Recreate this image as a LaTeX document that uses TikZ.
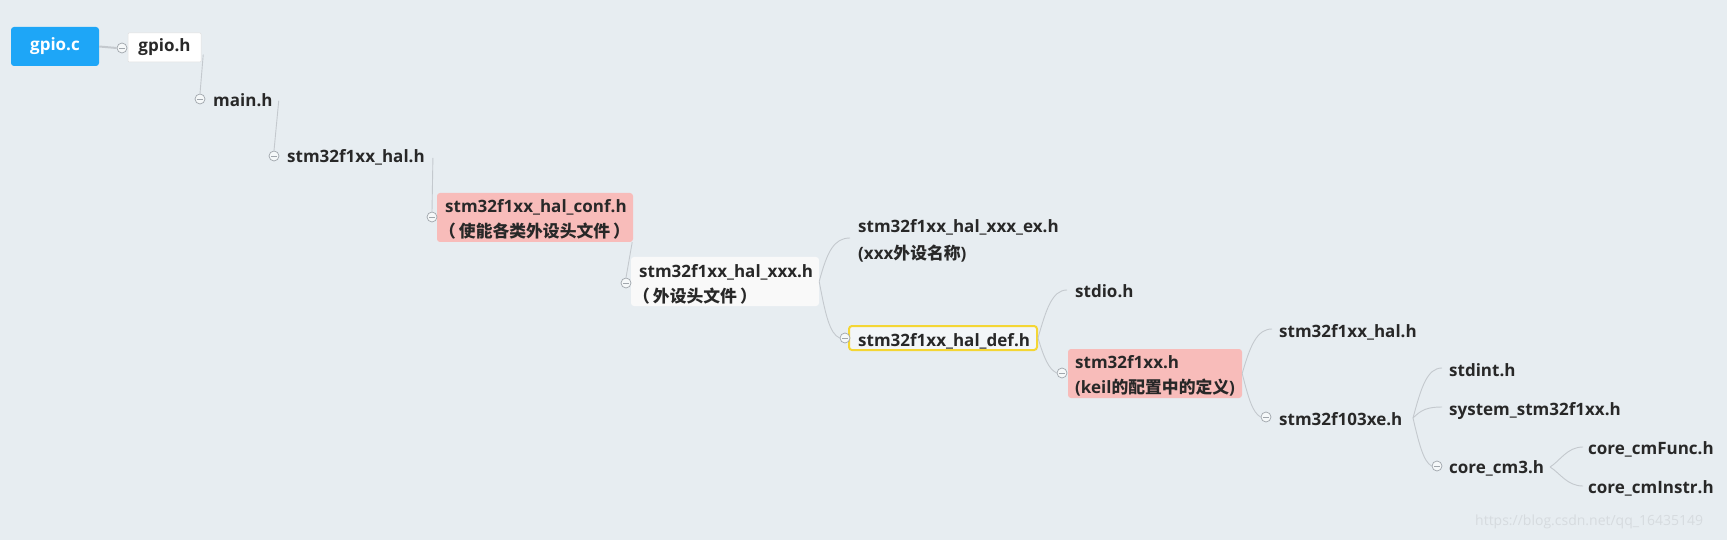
\documentclass[tikz,border=0pt]{standalone}
\usepackage{fontspec}
\setmainfont{Open Sans}
\newfontfamily\cjk{Noto Sans CJK SC}
\newcommand{\zh}[1]{{\cjk\fontsize{16.8}{20}\selectfont\bfseries #1}}
\definecolor{bg}{RGB}{231,237,241}
\definecolor{nblue}{RGB}{30,166,247}
\definecolor{npink}{RGB}{248,188,186}
\definecolor{nyellow}{RGB}{244,214,52}
\definecolor{nwhite}{RGB}{249,249,249}
\definecolor{tc}{RGB}{40,40,40}
\definecolor{cl}{RGB}{196,201,206}
\definecolor{cc}{RGB}{160,166,172}
\definecolor{wm}{RGB}{214,219,223}
\begin{document}
\begin{tikzpicture}[x=1pt,y=-1pt,
  txt/.style={anchor=base west, inner sep=0, font=\fontsize{17}{20}\selectfont\bfseries, text=tc},
  boxnode/.style={rectangle, rounded corners=3pt, inner sep=0},
  conn/.style={draw=cl, line width=0.9pt},
  coll/.style={circle, draw=cc, fill=bg!40!white, minimum size=10pt, inner sep=0, line width=0.7pt,
    path picture={\draw[cc, line width=0.7pt] ([xshift=2pt]path picture bounding box.west) -- ([xshift=-2pt]path picture bounding box.east);}}
]
\fill[bg] (0,0) rectangle (1727,540);
\useasboundingbox (0,0) rectangle (1727,540);

% boxes
\node[boxnode, fill=nblue, minimum width=88pt, minimum height=39pt, text=white, font=\fontsize{17}{20}\selectfont\bfseries] (gpioc) at (55,46.5) {gpio.c};
\node[boxnode, rounded corners=1pt, fill=white, draw=black!12, line width=0.5pt, minimum width=73pt, minimum height=29pt, text=tc, font=\fontsize{17}{20}\selectfont\bfseries] (gpioh) at (164.5,47.5) {gpio.h};
\node[boxnode, fill=npink, minimum width=196pt, minimum height=49pt] (conf) at (535,217.5) {};
\node[boxnode, fill=nwhite, minimum width=188pt, minimum height=49pt] (xxx) at (725,281.5) {};
\node[boxnode, fill=bg!50!white, draw=nyellow, line width=2pt, minimum width=188pt, minimum height=24pt] (def) at (943,338) {};
\node[boxnode, fill=npink, minimum width=174pt, minimum height=49pt] (f1xx) at (1155,373.5) {};

% collapse circles
\node[coll] (c1) at (122,48) {};
\node[coll] (c2) at (200,99) {};
\node[coll] (c3) at (274,156) {};
\node[coll] (c4) at (432,217) {};
\node[coll] (c5) at (626,283) {};
\node[coll] (c6) at (845,338) {};
\node[coll] (c7) at (1062,373) {};
\node[coll] (c8) at (1266,417) {};
\node[coll] (c9) at (1437,466) {};

% texts
\node[txt] (mainh) at (213,107) {main.h};
\node[txt] (hal1) at (287,163) {stm32f1xx\_hal.h};
\node[txt] (conf1) at (445,213) {stm32f1xx\_hal\_conf.h};
\node[txt] (conf2) at (439,237) {\zh{（\kern3pt 使能各类外设头文件\kern3pt）}};
\node[txt] (xxx1) at (639,277) {stm32f1xx\_hal\_xxx.h};
\node[txt] (xxx2) at (633,302) {\zh{（\kern3pt 外设头文件\kern3pt）}};
\node[txt] (ex1) at (858,233) {stm32f1xx\_hal\_xxx\_ex.h};
\node[txt] (ex2) at (858,259) {(xxx\zh{外设名称})};
\node[txt] (deft) at (858,346) {stm32f1xx\_hal\_def.h};
\node[txt] (stdio) at (1075,298) {stdio.h};
\node[txt] (f1xx1) at (1075,368) {stm32f1xx.h};
\node[txt] (f1xx2) at (1075,393) {(keil\zh{的配置中的定义})};
\node[txt] (hal2) at (1279,337) {stm32f1xx\_hal.h};
\node[txt] (f103) at (1279,425) {stm32f103xe.h};
\node[txt] (stdint) at (1449,376) {stdint.h};
\node[txt] (system) at (1449,415) {system\_stm32f1xx.h};
\node[txt] (cm3) at (1449,473) {core\_cm3.h};
\node[txt] (func) at (1588,454) {core\_cmFunc.h};
\node[txt] (instr) at (1588,493) {core\_cmInstr.h};
\node[anchor=base west, inner sep=0, font=\fontsize{14}{18}\selectfont, text=wm] (wmark) at (1475,525) {https://blog.csdn.net/qq\_16435149};

% connector end points
\coordinate (exin) at (850,238);
\coordinate (stdioin) at (1067,290);
\coordinate (hal2in) at (1272,329);
\coordinate (stdintin) at (1442,368);
\coordinate (systemin) at (1442,407);
\coordinate (funcin) at (1583,447);
\coordinate (instrin) at (1583,486);
\coordinate (f103out) at (1413,418);
\coordinate (cm3out) at (1550,467);

% connectors
\draw[draw=cl, line width=2pt] (gpioc.east) -- (c1.west);
\draw[conn] ([xshift=2pt,yshift=-7pt]gpioh.east) -- (c2.north);
\draw[conn] ([xshift=6pt]mainh.east) -- (c3.north);
\draw[conn] ([xshift=8pt]hal1.east) -- (c4.north);
\draw[conn] ([xshift=-1pt]conf.south east) -- (c5.north);
\draw[conn] (xxx.east) .. controls +(8,-30) and +(-16,0) .. (exin);
\draw[conn] (xxx.east) .. controls +(6,32) and +(-10,-4) .. (c6.west);
\draw[conn] (def.east) .. controls +(8,-28) and +(-15,0) .. (stdioin);
\draw[conn] (def.east) .. controls +(6,20) and +(-8,-4) .. (c7.west);
\draw[conn] (f1xx.east) .. controls +(8,-28) and +(-15,0) .. (hal2in);
\draw[conn] (f1xx.east) .. controls +(6,24) and +(-8,-4) .. (c8.west);
\draw[conn] (f103out) .. controls +(8,-30) and +(-15,0) .. (stdintin);
\draw[conn] (f103out) .. controls +(8,-8) and +(-15,0) .. (systemin);
\draw[conn] (f103out) .. controls +(6,26) and +(-8,-4) .. (c9.west);
\draw[conn] (cm3out) .. controls +(10,-6) and +(-16,0) .. (funcin);
\draw[conn] (cm3out) .. controls +(10,6) and +(-16,0) .. (instrin);
\end{tikzpicture}
\end{document}
